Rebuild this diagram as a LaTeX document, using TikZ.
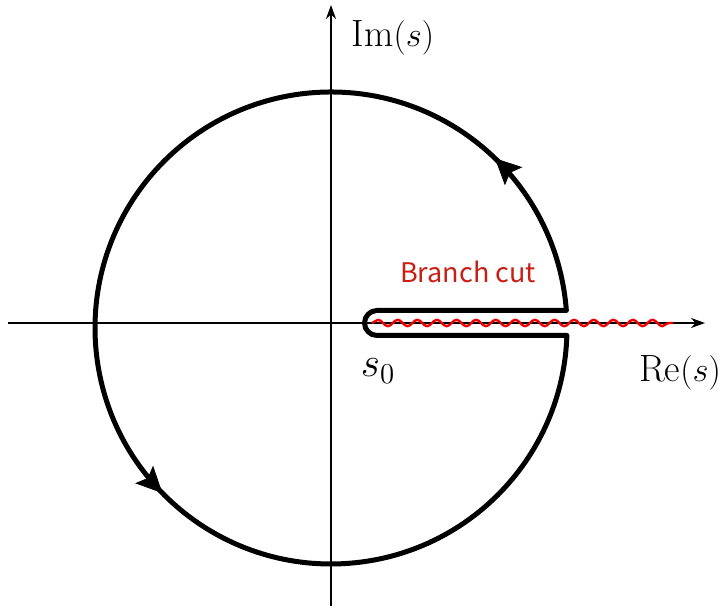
\documentclass[tikz,border=0pt]{standalone}
\usepackage{fontspec}
\newfontfamily\cutfont{Noto Sans CJK JP}
\usetikzlibrary{arrows.meta,decorations.pathmorphing,decorations.markings}
\definecolor{cutred}{RGB}{200,30,20}
\definecolor{wavered}{RGB}{240,0,0}
\begin{document}
\begin{tikzpicture}[x=0.5pt,y=0.5pt,
  axis/.style={line width=1pt,-{Stealth[length=7pt,width=5pt]}},
  contour/.style={line width=2.5pt,line join=round},
  lbl/.style={font=\fontsize{19}{23}\selectfont,inner sep=0pt},
  cutlbl/.style={font=\cutfont\fontsize{13.5}{16}\selectfont,text=cutred,inner sep=0pt}]
\useasboundingbox (-331,-287) rectangle (393,323);
% axes
\coordinate (xl) at (-323,0);
\coordinate (xr) at (374,0);
\coordinate (yb) at (0,-283);
\coordinate (yt) at (0,318);
\draw[axis] (xl) -- (xr);
\draw[axis] (yb) -- (yt);
% branch cut
\coordinate (cs) at (41,0);
\coordinate (ce) at (342,0);
\draw[wavered,line width=1.2pt,decorate,decoration={snake,amplitude=1.6pt,segment length=9.8pt}] (cs) -- (ce);
% contour
\coordinate (cup) at (235.35,12.5);
\draw[contour] (cup) arc[start angle=4.25,end angle=358.18,radius=236]
   -- (46,-12.5) arc[start angle=-90,end angle=-270,radius=12.5] -- cycle;
% direction arrows on big circle
\draw[draw=none,decoration={markings,
   mark=at position 0.118 with {\arrow{Stealth[length=13pt,width=12.5pt,inset=2.5pt]}},
   mark=at position 0.622 with {\arrow{Stealth[length=13pt,width=12.5pt,inset=2.5pt]}}},postaction={decorate}]
   (cup) arc[start angle=4.25,end angle=358.18,radius=236];
% labels
\node[lbl] (im) at (62,285) {$\mathrm{Im}(s)$};
\node[lbl] (re) at (349,-50) {$\mathrm{Re}(s)$};
\node[lbl,font=\fontsize{20}{24}\selectfont] (s0) at (47,-48) {$s_0$};
\node[cutlbl] (bc) at (137,51) {Branch cut};
\end{tikzpicture}
\end{document}
